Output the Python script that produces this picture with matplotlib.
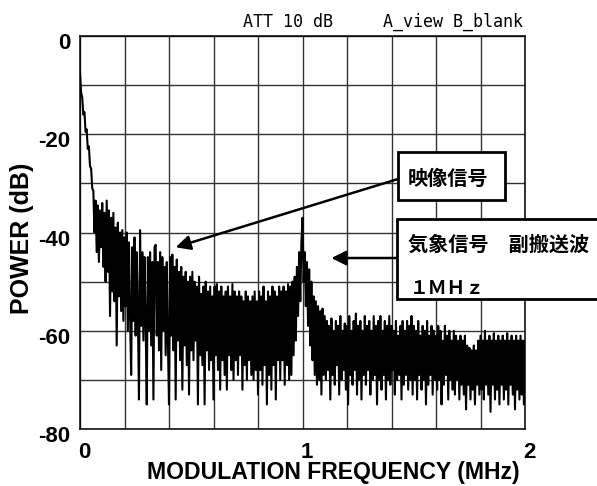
import numpy as np
import matplotlib
matplotlib.use("Agg")
import matplotlib.pyplot as plt
import matplotlib.transforms as mtransforms
from matplotlib.patches import Rectangle

# Sweep settings of the analyzer: 0 - 2 MHz, 401 points
freq_start = 0.0
freq_stop = 2.0

# Measured power (dB), 20 points per 0.1 MHz
power_db = [
    # 0.0 - 0.1 MHz
    -7.5, -11.5, -12.5, -16, -15.5, -19.5, -19, -23, -22.5, -26.5,
    -27, -31, -31.5, -40, -33.5, -44, -34.5, -46, -35.5, -43,
    # 0.1 - 0.2
    -34, -47, -36, -50, -33.5, -48, -35.5, -57, -37, -52,
    -36, -54, -39, -63, -38, -53, -40, -56, -39.5, -58,
    # 0.2 - 0.3
    -41, -55, -40, -60, -42, -57, -69, -43, -58, -41,
    -61, -44, -56, -74, -39.5, -59, -44, -62, -45, -58,
    # 0.3 - 0.4
    -75, -45, -60, -44, -63, -46, -74, -43, -42.5, -61,
    -46, -64, -44, -68, -45, -60, -47, -65, -46, -62,
    # 0.4 - 0.5
    -75, -45, -61, -44.5, -64, -47, -74, -45.5, -62, -48,
    -66, -47, -72, -49, -63, -48, -67, -50, -73, -49,
    # 0.5 - 0.6
    -64, -48, -66, -50, -62, -51, -75, -49, -65, -52.5,
    -67, -51, -75, -50, -64, -52, -68, -51, -66, -53,
    # 0.6 - 0.7
    -74, -51, -65, -50.5, -68, -52, -72, -51, -66, -53,
    -69, -52, -72, -51, -65, -53, -68, -50.5, -70, -52,
    # 0.7 - 0.8
    -66, -53, -69, -52, -65, -53, -72, -54, -67, -52,
    -70, -53, -66, -54, -69, -53, -70, -52, -68, -54,
    # 0.8 - 0.9
    -73, -52, -68, -53, -71, -51, -67, -54, -75, -52,
    -69, -53, -72, -51, -67, -52, -74, -53, -66, -51,
    # 0.9 - 1.0
    -70, -52, -66, -51, -71, -52, -67, -50.5, -70, -51,
    -69, -50, -65, -49, -62, -47, -57, -44, -54, -42,
    # 1.0 - 1.1  (1 MHz subcarrier)
    -37, -50, -44, -55, -46, -59, -47.5, -63, -50, -66,
    -53, -69, -54, -71, -55, -70, -56, -73, -55.5, -69,
    # 1.1 - 1.2
    -57, -70, -58, -68, -59, -74, -57.5, -69, -60, -71,
    -58, -67, -59, -73, -57, -70, -60, -68, -58.5, -72,
    # 1.2 - 1.3
    -59, -75, -57, -69, -60, -71, -58, -68, -56.5, -73,
    -59, -70, -58, -74, -60, -69, -57, -71, -59, -68,
    # 1.3 - 1.4
    -58, -73, -60, -70, -57, -69, -59, -75, -58, -70,
    -57, -72, -60, -69, -58, -74, -59, -70, -57, -71,
    # 1.4 - 1.5
    -59, -68, -60, -73, -58, -70, -61, -69, -59, -74,
    -58, -71, -60, -69, -58, -72, -59, -70, -57, -73,
    # 1.5 - 1.6
    -59, -70, -60, -74, -58, -69, -61, -72, -59, -70,
    -60, -75, -58, -71, -61, -69, -59, -73, -60, -70,
    # 1.6 - 1.7
    -61, -72, -59, -70, -60, -75, -62, -71, -59, -69,
    -61, -74, -60, -70, -62, -72, -60, -73, -61, -70,
    # 1.7 - 1.8
    -62, -74, -61, -71, -62, -73, -61, -76, -63, -71,
    -63.5, -74, -64, -72, -63, -75, -64, -71, -62, -73,
    # 1.8 - 1.9
    -61, -72, -62, -74, -60, -71, -62, -73, -61, -76.5,
    -62, -71, -60.5, -74, -62, -72, -61, -75, -62, -71,
    # 1.9 - 2.0
    -61, -74, -62, -72, -60.5, -75, -62, -71, -61, -73,
    -62, -76, -61, -72, -62, -74, -61, -73, -62, -75,
    -62,
]
freq_mhz = np.linspace(freq_start, freq_stop, len(power_db))

x_ticks = [0, 0.2, 0.4, 0.6, 0.8, 1.0, 1.2, 1.4, 1.6, 1.8, 2.0]
x_labels = ["0", "", "", "", "", "1", "", "", "", "", "2"]
y_ticks = [-80, -70, -60, -50, -40, -30, -20, -10, 0]
y_labels = ["-80", "", "-60", "", "-40", "", "-20", "", "0"]

W, H = 597, 486


def fig_xy(x, y):
    # pixel position -> figure fraction
    return x / W, 1 - y / H


fig = plt.figure(figsize=(W / 100, H / 100), dpi=100)
ax = fig.add_axes([80 / W, 1 - 429 / H, 445 / W, 393 / H])

ax.plot(freq_mhz, power_db, color="black", lw=1.5, zorder=3)
ax.set_xlim(freq_start, freq_stop)
ax.set_ylim(-80, 0)

ax.set_xticks(x_ticks)
ax.set_xticklabels(x_labels)
ax.set_yticks(y_ticks)
ax.set_yticklabels(y_labels)
ax.grid(True, color="#333333", lw=1.0)
ax.tick_params(length=0)
ax.tick_params(axis="x", pad=9)
ax.tick_params(axis="y", pad=7)
for spine in ax.spines.values():
    spine.set_linewidth(1.1)

tick_font = dict(family="Liberation Sans", weight="bold", size=16)
for lab in ax.get_xticklabels():
    lab.set(**tick_font)
    lab.set_transform(lab.get_transform() + mtransforms.ScaledTranslation(0.04, 0, fig.dpi_scale_trans))
for lab in ax.get_yticklabels():
    lab.set(**tick_font)
    lab.set_transform(lab.get_transform() + mtransforms.ScaledTranslation(0, -0.05, fig.dpi_scale_trans))

fig.text(*fig_xy(333, 472), "MODULATION FREQUENCY (MHz)", ha="center", va="center",
         family="Liberation Sans", weight="bold", size=16.6)
fig.text(*fig_xy(22, 238), "POWER (dB)", ha="center", va="center", rotation=90,
         family="Liberation Sans", weight="bold", size=18)

# header line of the analyzer printout
fig.text(*fig_xy(243, 22), "ATT 10 dB     A_view B_blank", ha="left", va="center",
         family="DejaVu Sans Mono", size=12)

# callouts
cjk = ["Noto Sans CJK JP", "DejaVu Sans"]
arrow_kw = dict(arrowstyle="-|>", color="black", lw=1.8, mutation_scale=22, shrinkA=0, shrinkB=0)
ax.annotate("", xy=(0.43, -43), xycoords="data",
            xytext=fig_xy(398, 179), textcoords="figure fraction",
            arrowprops=arrow_kw, annotation_clip=False, zorder=5)
ax.annotate("", xy=(1.13, -45.2), xycoords="data",
            xytext=fig_xy(397, 258), textcoords="figure fraction",
            arrowprops=arrow_kw, annotation_clip=False, zorder=5)

box1 = Rectangle(fig_xy(398, 200), 107 / W, 48 / H, transform=fig.transFigure,
                 facecolor="white", edgecolor="black", lw=2, zorder=6)
box2 = Rectangle(fig_xy(397, 299), 230 / W, 80 / H, transform=fig.transFigure,
                 facecolor="white", edgecolor="black", lw=2, zorder=6)
fig.patches.extend([box1, box2])

fig.text(*fig_xy(408, 178), "映像信号", ha="left", va="center",
         family=cjk, weight="bold", size=14.5, zorder=7)
fig.text(*fig_xy(408, 244), "気象信号　副搬送波", ha="left", va="center",
         family=cjk, weight="bold", size=14.5, zorder=7)
fig.text(*fig_xy(410, 289), "１ＭＨｚ", ha="left", va="center",
         family=cjk, weight="bold", size=13.5, zorder=7)

fig.savefig("out.png", dpi=100)
